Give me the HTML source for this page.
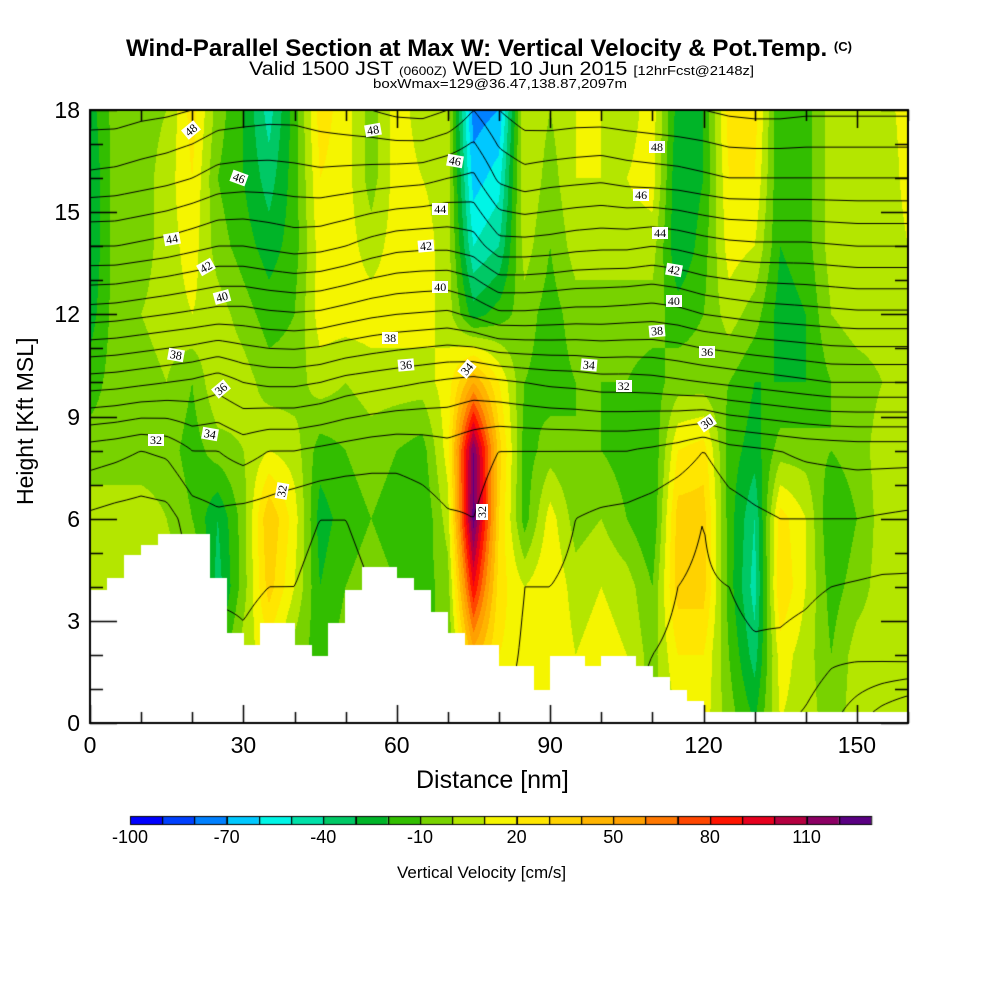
<!DOCTYPE html>
<html><head><meta charset="utf-8">
<style>
html,body{margin:0;padding:0;background:#fff;}
#root{position:relative;width:1000px;height:1000px;overflow:hidden;font-family:"Liberation Sans",sans-serif;color:#000;}
canvas{position:absolute;left:0;top:0;}
.t{position:absolute;white-space:nowrap;transform-origin:0 0;line-height:1;}
.clab{position:absolute;background:#fff;font-family:"Liberation Serif",serif;font-size:12px;line-height:12px;padding:0 2px;white-space:nowrap;}
</style></head>
<body>
<div id="root">
<canvas id="cv" width="1000" height="1000"></canvas>
<div class="t fit" id="title" data-w="726" data-x="126" style="top:37px;font-size:24px;font-weight:bold;">Wind-Parallel Section at Max W: Vertical Velocity &amp; Pot.Temp. <span style="font-size:13px;vertical-align:5px">(C)</span></div>
<div class="t fit" id="sub1" data-w="505" data-x="249" style="top:60px;font-size:19px;">Valid 1500 JST <span style="font-size:12px">(0600Z)</span> WED 10 Jun 2015 <span style="font-size:13px">[12hrFcst@2148z]</span></div>
<div class="t fit" id="sub2" data-w="254" data-x="373" style="top:77px;font-size:13px;">boxWmax=129@36.47,138.87,2097m</div>
<div class="t" style="left:14px;top:505px;font-size:23px;transform:rotate(-90deg);">Height [Kft MSL]</div>
<div class="t" style="left:416px;top:768px;font-size:25px;">Distance [nm]</div>
<div class="t" style="left:397px;top:864px;font-size:17px;">Vertical Velocity [cm/s]</div>
<div id="ticklabels"></div>
<div id="clabels"></div>
</div>
<script>
// ---- data ----
const distances=[0,5,10,15,20,25,30,35,40,45,50,55,60,65,70,75,80,85,90,95,100,105,110,115,120,125,130,135,140,145,150,155,160];
const heights=[18,16,14,12,10,8,6,4,2,0];
const wProfiles=[
[-25,-30,-30,-25,-15,-5,5,5,5,5],
[-5,-5,-5,-5,-5,-5,5,5,5,5],
[-5,-5,-5,0,-5,-5,5,5,5,5],
[0,5,5,5,0,-5,0,5,5,5],
[25,20,15,10,-10,-15,-10,5,5,5],
[-5,-10,-5,5,10,-5,-30,-35,-20,0],
[-20,-20,-15,-5,5,0,-5,-5,5,5],
[-45,-35,-25,-15,-5,10,40,35,15,10],
[-15,-15,-15,-10,-5,5,15,10,-5,-5],
[25,20,15,15,5,-15,-25,-20,-15,-10],
[15,15,15,15,0,-10,-15,-10,-5,-5],
[-5,-5,5,15,5,-5,-10,-5,0,0],
[15,15,15,15,5,-10,-15,-10,-5,-5],
[5,10,15,15,5,-15,-20,-15,-10,-10],
[5,5,5,5,15,15,5,-5,-10,-10],
[-75,-65,-50,-25,50,120,125,90,45,30],
[-70,-55,-40,-15,20,35,30,25,20,15],
[10,10,5,-5,-10,-15,-15,10,15,15],
[0,-5,-10,-15,-15,-5,15,20,20,15],
[10,10,5,-5,-10,-10,-5,5,10,15],
[10,10,5,-5,-10,-10,0,10,15,15],
[5,10,5,-5,-10,-15,-10,5,10,10],
[15,15,5,-5,-15,-20,-20,-10,-5,-5],
[-25,-30,-30,-15,-5,20,35,35,20,10],
[-20,-20,-15,-10,-5,25,35,35,20,15],
[25,20,15,5,-10,-15,-15,-15,-10,-5],
[25,20,10,-5,-20,-25,-40,-45,-35,-20],
[-20,-20,-20,-25,-20,-5,25,30,15,10],
[-15,-15,-15,-20,-20,-5,10,10,5,5],
[5,5,5,0,-10,-10,-20,-15,-10,-5],
[10,10,10,5,-5,-5,-10,-5,5,5],
[5,0,0,5,0,5,5,5,5,5],
[15,15,10,5,5,5,5,5,5,5]];
const thetaProfiles=[
[48.5,46.8,44,40.5,36.5,32.5,30.8,30.2,29.5,29],
[48.5,46.7,44,40.4,36.4,32.3,30.6,30,29.5,29],
[48.3,46.5,43.8,40.2,36.2,32,30.5,30,29.5,29],
[48.2,46.3,43.6,40,36,32.2,30.6,30,29.5,29],
[48,46,43.3,39.8,35.8,33,31.5,31,30.5,30],
[47.6,45.6,43,39.6,35.4,33,31.8,31.2,30.5,30],
[47.5,45.5,43,39.6,36,33.4,31.6,31.2,30.8,30],
[47.4,45.5,43.2,39.8,36.2,33,31.5,31,30.5,30],
[47.4,45.6,43.4,39.9,36.2,33,31.2,31,30.5,30],
[47.6,45.7,43.3,39.8,36,32.8,31,30.8,30.5,30],
[47.8,45.6,43,39.5,35.6,32.6,31,30.8,30.5,30],
[48,45.5,42.6,39.2,35.4,32.4,31.2,31,30.6,30],
[48.3,45.4,42.3,39,35.2,32.3,31.4,31.2,30.8,30],
[48.4,45.3,42.2,38.9,35,32.4,31.6,31.4,31,30.5],
[48,45,42.2,38.8,34.8,32.6,31.9,31.8,31.5,31],
[47,44.8,42.5,39.2,34.6,32.3,32,31.9,31.8,31.5],
[48,46.2,43.6,39.8,34.8,32,31.6,31.5,31.3,31],
[48.6,46.6,43.6,39.8,35,32,31.2,31,30.9,30.8],
[48.7,46.4,43.5,39.7,35.2,32,31.2,31,30.9,30.8],
[48.6,46.3,43.3,39.6,35.3,32,31,30.9,30.8,30.6],
[48.6,46.2,43.2,39.6,35.5,32,30.8,30.6,30.5,30.4],
[48.7,46.4,43.2,39.5,35.5,32,30.7,30.4,30.2,30],
[48.8,46.5,43,39.4,35.6,31.8,30.5,30.2,30,29.8],
[48.9,46.6,43.2,39.6,35.8,31.5,30.2,30,29.9,29.8],
[49,46.8,43.5,40,36,31,30,29.9,29.8,29.6],
[49.2,47,43.7,40.2,36.2,31.6,30.5,30,29.8,29.5],
[49.3,47,43.8,40.4,36.4,31.8,30.8,30.2,29.9,29.5],
[49.3,47,43.8,40.5,36.6,32,31,30.3,29.8,29.2],
[49.2,47,43.8,40.6,36.8,32.2,31,30.2,29.6,28.8],
[49.2,47,43.9,40.7,37,32.3,31,30,29.2,28.2],
[49.2,47,44,40.8,37,32.4,31,29.9,29.2,27.2],
[49.2,47,44,40.8,37,32.4,30.9,29.8,29.3,26.2],
[49.2,47,44,40.8,37,32.4,30.8,29.8,29.4,25.4]];
const terrainKft=[3.9,4.26,4.93,5.23,5.55,5.55,5.55,4.26,2.64,2.29,2.94,2.94,2.29,1.97,2.94,3.9,4.58,4.58,4.26,3.9,3.26,2.64,2.29,2.29,1.67,1.67,0.97,1.97,1.97,1.67,1.97,1.97,1.67,1.35,0.97,0.65,0.32,0.32,0.32,0.32,0.32,0.32,0.32,0.32,0.32,0.32,0.32,0.32];
const xTicks=[0,30,60,90,120,150];
const yTicks=[0,3,6,9,12,15,18];
const cbarLabels=[-100,-70,-40,-10,20,50,80,110];
const thetaLevels=[25,26,27,28,29,30,31,32,33,34,35,36,37,38,39,40,41,42,43,44,45,46,47,48,49];
const contourLabels=[[48,20,17.4,-40],[46,29.4,16,20],[44,16.2,14.2,-10],[42,22.9,13.4,-30],[40,26,12.5,-15],[38,17,10.8,10],[36,25.8,9.8,-40],[34,23.7,8.5,10],[32,13.1,8.3,0],[32,37.8,6.8,-80],
[48,55.6,17.4,-10],[46,71.6,16.5,10],[44,68.7,15.1,0],[42,65.9,14,-5],[40,68.7,12.8,0],[38,58.9,11.3,0],[36,62,10.5,-5],[34,73.9,10.4,-50],[32,76.9,6.2,-90],
[48,111.1,16.9,0],[46,108,15.5,0],[44,111.7,14.4,0],[42,114.4,13.3,10],[40,114.4,12.4,0],[38,111.1,11.5,-5],[36,120.9,10.9,0],[34,97.8,10.5,5],[32,104.6,9.9,0],[30,120.9,8.8,-35]];
const wColors=["#0000ff","#0040ff","#0080ff","#00c8ff","#00f5e6","#00e0a8","#00c865","#00b428","#32be00","#78d200","#b4e600","#f5f500","#ffe600","#ffd200","#ffb400","#ffa000","#ff7800","#ff4600","#ff1400","#e6001e","#b40040","#8c0064","#5a0082"];
// ---- layout ----
const X0=90,X1=908,Y0=110,Y1=723,XMAX=160,YMAX=18;
const xs=nm=>X0+nm/XMAX*(X1-X0);
const ys=k=>Y1-k/YMAX*(Y1-Y0);
function field(prof,nm,k){
  let fi=(nm-distances[0])/(distances[1]-distances[0]);
  let fj=(heights[0]-k)/(heights[0]-heights[1]);
  fi=Math.max(0,Math.min(distances.length-1.0001,fi));
  fj=Math.max(0,Math.min(heights.length-1.0001,fj));
  const i=Math.floor(fi),j=Math.floor(fj),a=fi-i,b=fj-j;
  return prof[i][j]*(1-a)*(1-b)+prof[i+1][j]*a*(1-b)+prof[i][j+1]*(1-a)*b+prof[i+1][j+1]*a*b;
}
const cv=document.getElementById('cv'),ctx=cv.getContext('2d');
ctx.fillStyle='#fff';ctx.fillRect(0,0,1000,1000);
const rgb=wColors.map(c=>[parseInt(c.substr(1,2),16),parseInt(c.substr(3,2),16),parseInt(c.substr(5,2),16)]);
const img=ctx.getImageData(X0,Y0,X1-X0,Y1-Y0);
for(let py=0;py<Y1-Y0;py++){
  const k=(Y1-(Y0+py+0.5))/(Y1-Y0)*YMAX;
  for(let px=0;px<X1-X0;px++){
    const nm=(px+0.5)/(X1-X0)*XMAX;
    const w=field(wProfiles,nm,k);
    let bi=Math.floor((w+100)/10);bi=Math.max(0,Math.min(22,bi));
    const o=(py*(X1-X0)+px)*4,c=rgb[bi];
    img.data[o]=c[0];img.data[o+1]=c[1];img.data[o+2]=c[2];img.data[o+3]=255;
  }
}
ctx.putImageData(img,X0,Y0);
// contours
ctx.save();ctx.beginPath();ctx.rect(X0,Y0,X1-X0,Y1-Y0);ctx.clip();
ctx.strokeStyle='#000';ctx.lineWidth=1;
const S=3,nx=Math.ceil((X1-X0)/S)+1,ny=Math.ceil((Y1-Y0)/S)+1;
const T=[];
for(let j=0;j<ny;j++){T.push([]);for(let i=0;i<nx;i++){
  const px=X0+i*S,py=Y0+j*S;
  T[j].push(field(thetaProfiles,(px-X0)/(X1-X0)*XMAX,(Y1-py)/(Y1-Y0)*YMAX));}}
ctx.beginPath();
for(const lv of thetaLevels){
  for(let j=0;j<ny-1;j++)for(let i=0;i<nx-1;i++){
    const v=[T[j][i],T[j][i+1],T[j+1][i+1],T[j+1][i]];
    const p=[[X0+i*S,Y0+j*S],[X0+(i+1)*S,Y0+j*S],[X0+(i+1)*S,Y0+(j+1)*S],[X0+i*S,Y0+(j+1)*S]];
    const pts=[];
    for(let e=0;e<4;e++){const a=v[e],b=v[(e+1)%4];
      if((a<lv)!==(b<lv)){const t=(lv-a)/(b-a);const A=p[e],B=p[(e+1)%4];pts.push([A[0]+(B[0]-A[0])*t,A[1]+(B[1]-A[1])*t]);}}
    for(let q=0;q+1<pts.length;q+=2){ctx.moveTo(pts[q][0],pts[q][1]);ctx.lineTo(pts[q+1][0],pts[q+1][1]);}
  }
}
ctx.stroke();ctx.restore();
// terrain
ctx.fillStyle='#fff';
const cw=XMAX/terrainKft.length;
terrainKft.forEach((h,i)=>{const xa=Math.floor(xs(i*cw)),xb=Math.ceil(xs((i+1)*cw));ctx.fillRect(xa,Math.round(ys(h)),xb-xa,Y1-Math.round(ys(h)));});
// axes
ctx.strokeStyle='#000';ctx.lineWidth=2;ctx.strokeRect(X0,Y0,X1-X0,Y1-Y0);
ctx.lineWidth=1.5;ctx.beginPath();
for(let v=0;v<=XMAX;v+=10){const x=Math.round(xs(v))+0.5,L=(v%30===0)?18:11;
  ctx.moveTo(x,Y1);ctx.lineTo(x,Y1-L);ctx.moveTo(x,Y0);ctx.lineTo(x,Y0+L);}
for(let v=0;v<=YMAX;v+=1){const y=Math.round(ys(v))+0.5,L=(v%3===0)?27:13;
  ctx.moveTo(X0,y);ctx.lineTo(X0+L,y);ctx.moveTo(X1,y);ctx.lineTo(X1-L,y);}
ctx.stroke();
// colorbar
const CB0=130,CB1=871,CBY=816,CBH=8,bw=(CB1-CB0)/wColors.length;
wColors.forEach((c,i)=>{ctx.fillStyle=c;ctx.fillRect(CB0+i*bw,CBY,bw,CBH);});
ctx.lineWidth=1;ctx.strokeStyle='#000';
wColors.forEach((c,i)=>{ctx.strokeRect(Math.round(CB0+i*bw)+0.5,CBY+0.5,bw,CBH);});
// tick labels
const tl=document.getElementById('ticklabels');
xTicks.forEach(v=>{const d=document.createElement('div');d.className='t';
  
  
  d.textContent=v;d.style.fontSize='23px';d.style.top='734px';d.style.left=(xs(v))+'px';d.style.transform='translateX(-50%)';tl.appendChild(d);});
yTicks.forEach(v=>{const d=document.createElement('div');d.className='t';
  
  
  d.textContent=v;d.style.fontSize='23px';d.style.top=(ys(v)-11)+'px';d.style.right=(1000-80)+'px';d.style.left='auto';tl.appendChild(d);});
cbarLabels.forEach(v=>{const d=document.createElement('div');d.className='t';
  
  
  d.textContent=v;d.style.fontSize='18px';d.style.top='828px';d.style.left=(CB0+(v+100)/10*bw)+'px';d.style.transform='translateX(-50%)';tl.appendChild(d);});
// contour labels
const cl=document.getElementById('clabels');
contourLabels.forEach(r=>{const d=document.createElement('div');d.className='clab';
  
  
  d.textContent=r[0];d.style.left=(xs(r[1])-9)+'px';d.style.top=(ys(r[2])-6)+'px';d.style.transform='rotate('+r[3]+'deg)';cl.appendChild(d);});
document.querySelectorAll('.fit').forEach(el=>{const w=el.getBoundingClientRect().width;const tw=+el.dataset.w;
  el.style.left=el.dataset.x+'px';el.style.transform='scaleX('+(tw/w)+')';});
</script>
</body></html>
